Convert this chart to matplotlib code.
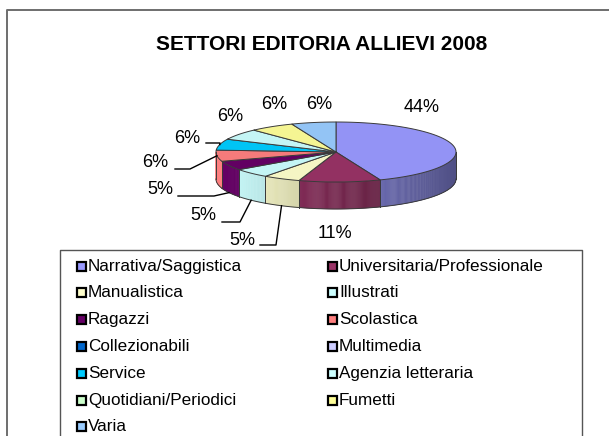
import numpy as np
import matplotlib
matplotlib.use('Agg')
import matplotlib.pyplot as plt
from matplotlib.patches import Polygon, Rectangle
from matplotlib.colors import to_rgb

plt.rcParams['font.family'] = ['Liberation Sans', 'DejaVu Sans']

# Data
categories = ['Narrativa/Saggistica', 'Universitaria/Professionale', 'Manualistica',
              'Illustrati', 'Ragazzi', 'Scolastica', 'Collezionabili', 'Multimedia',
              'Service', 'Agenzia letteraria', 'Quotidiani/Periodici', 'Fumetti', 'Varia']
values = [44, 11, 5, 5, 5, 6, 0, 0, 6, 6, 0, 6, 6]
colors = ['#9999FF', '#993366', '#FFFFCC', '#CCFFFF', '#660066', '#FF8080', '#0066CC',
          '#CCCCFF', '#00CCFF', '#CCFFFF', '#CCFFCC', '#FFFF99', '#99CCFF']

# Layout (pixel coordinates)
CX, CY = 336, 152        # pie centre
RA, RB = 120, 30         # ellipse semi axes
DEPTH = 27               # side height
EDGE = '#3a3a3a'

# label text centres, for non-zero slices in order
label_pos = [(422, 107), (335, 233), (242, 240), (203, 215), (160, 189),
             (155, 162), (187, 138), (230, 116), (274, 104), (319, 104)]
# leader lines: slice index -> (line start x, line y, elbow x, anchor on 'top'/'bottom')
leaders = {2: (260, 245, 276, 'bottom'), 3: (222, 222, 240, 'bottom'),
           4: (178, 196, 214, 'bottom'), 5: (175, 169, 190, 'top'),
           8: (206, 143, 220, 'top')}


def pt(theta, dy=0.0):
    t = np.radians(theta)
    return CX + RA * np.cos(t), CY - RB * np.sin(t) + dy


def shade(c, f):
    r, g, b = to_rgb(c)
    return (min(r * f, 1), min(g * f, 1), min(b * f, 1))


fig = plt.figure(figsize=(6.09, 4.36), dpi=100)
ax = fig.add_axes([0, 0, 1, 1])
ax.set_xlim(0, 609)
ax.set_ylim(436, 0)
ax.axis('off')

# outer chart frame (right / bottom edges fall outside the picture)
ax.plot([7, 7, 620], [445, 10, 10], color='#6e6e6e', lw=1.4, solid_capstyle='butt')

ax.text(322, 45, 'SETTORI EDITORIA ALLIEVI 2008', ha='center', va='center',
        fontsize=15, fontweight='bold', color='black')

total = float(sum(values))
starts, ends = [], []
a = 90.0
for v in values:
    starts.append(a)
    a -= v / total * 360.0
    ends.append(a)

# side faces (front half only: angles between -180 and 0)
for s, e, c, v in zip(starts, ends, colors, values):
    if v == 0:
        continue
    for off in (0.0, -360.0):
        hi, lo = min(s + off, 0.0), max(e + off, -180.0)
        if hi <= lo:
            continue
        th = np.linspace(hi, lo, max(int(hi - lo) * 2, 2) + 1)
        for t0, t1 in zip(th[:-1], th[1:]):
            tm = 0.5 * (t0 + t1)
            f = 0.76 - 0.24 * np.cos(np.radians(tm))
            x0, y0 = pt(t0)
            x1, y1 = pt(t1)
            ax.add_patch(Polygon([(x0, y0), (x1, y1), (x1, y1 + DEPTH), (x0, y0 + DEPTH)],
                                 closed=True, fc=shade(c, f), ec=shade(c, f), lw=0.3))
        # outline of the side piece
        xs, ys = pt(th)
        ax.plot(xs, ys + DEPTH, color=EDGE, lw=0.7)
        for t in (hi, lo):
            x, y = pt(t)
            ax.plot([x, x], [y, y + DEPTH], color=EDGE, lw=0.7)

# top faces
for s, e, c, v in zip(starts, ends, colors, values):
    if v == 0:
        continue
    th = np.linspace(s, e, max(int(abs(s - e)) * 2, 2) + 1)
    xs, ys = pt(th)
    verts = [(CX, CY)] + list(zip(xs, ys))
    ax.add_patch(Polygon(verts, closed=True, fc=shade(c, 0.96), ec=EDGE, lw=0.7,
                         joinstyle='round'))

# data labels and leader lines
k = 0
for i, v in enumerate(values):
    if v == 0:
        continue
    lx, ly = label_pos[k]
    k += 1
    ax.text(lx, ly, f'{v / total * 100:.0f}%', ha='center', va='center',
            fontsize=13, color='black')
    if i in leaders:
        x0, yl, xe, where = leaders[i]
        mid = 0.5 * (starts[i] + ends[i])
        axx, ayy = pt(mid, DEPTH if where == 'bottom' else 0)
        ax.plot([x0, xe, axx], [yl, yl, ayy], color='black', lw=1.0)

# legend box
ax.plot([60, 60, 582, 582], [445, 250, 250, 445], color='#555555', lw=1.0)
for i, (name, c) in enumerate(zip(categories, colors)):
    r, col = divmod(i, 2)
    mx = 81 if col == 0 else 332
    my = 266 + r * 26.8
    ax.add_patch(Rectangle((mx - 4.5, my - 4.5), 9, 9, fc=c, ec='black', lw=1.6))
    ax.text(mx + 7, my, name, ha='left', va='center', fontsize=12.3, color='black')

fig.savefig('out.png', dpi=100)
